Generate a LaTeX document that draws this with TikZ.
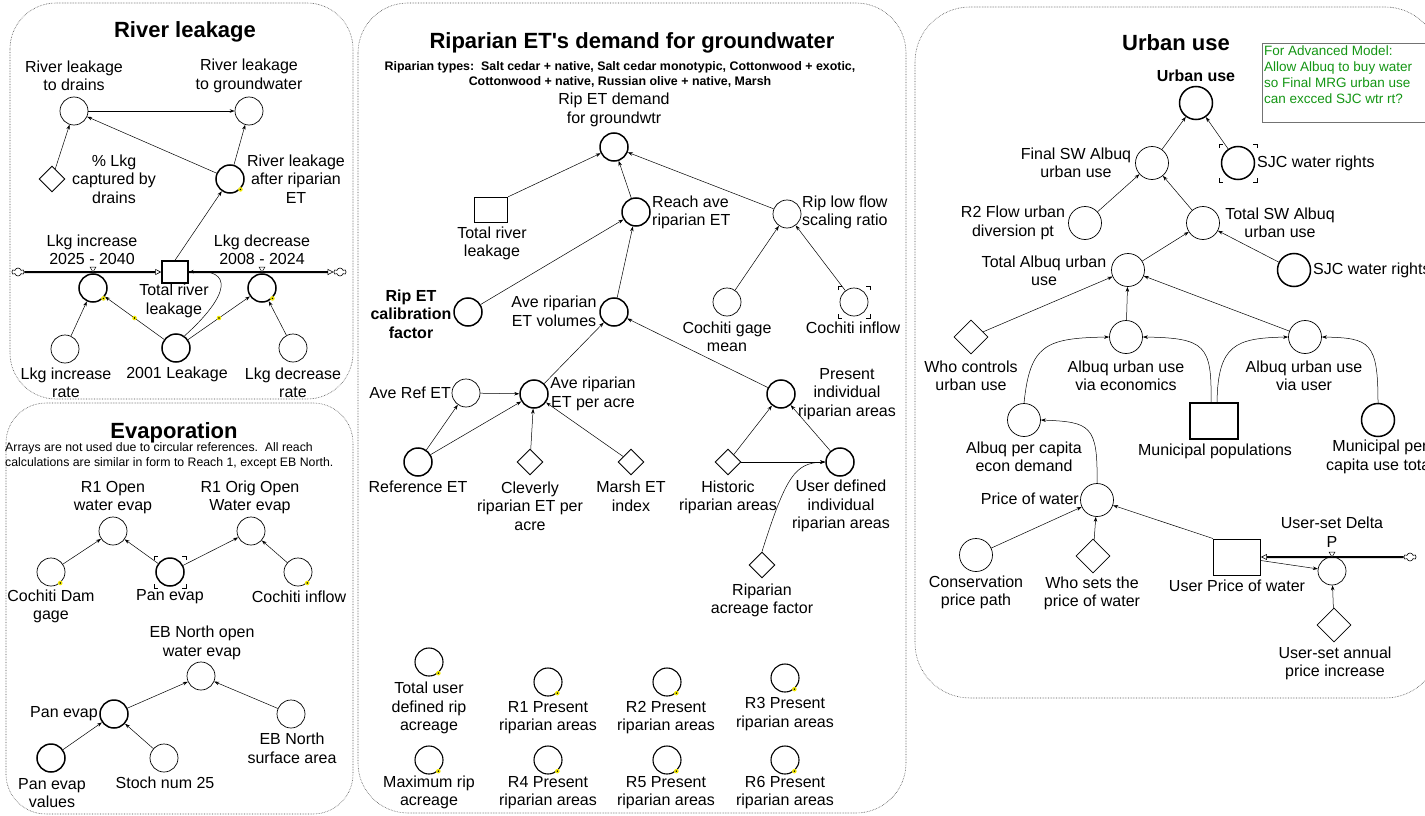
\documentclass[tikz,border=0pt]{standalone}
\usepackage{fontspec}
\setmainfont{Liberation Sans}
\usetikzlibrary{arrows.meta,shapes.geometric,shapes.symbols}
\definecolor{notegreen}{RGB}{20,150,20}
\definecolor{dotyellow}{RGB}{245,235,0}
% small yellow marker drawn on a circle border or on a link
\newcommand\hotdot[1]{\fill[dotyellow] (#1) circle (2.3pt); \fill[black] (#1) circle (0.8pt);}
% corner brackets around a variable
\newcommand\cornermarks[2]{%
  \draw[cmark] ([shift={(-#2,-#2+4)}]#1.center) -- ++(0,-4) -- ++(4,0);
  \draw[cmark] ([shift={(#2-4,-#2)}]#1.center) -- ++(4,0) -- ++(0,4);
  \draw[cmark] ([shift={(-#2,#2-4)}]#1.center) -- ++(0,4) -- ++(4,0);
  \draw[cmark] ([shift={(#2-4,#2)}]#1.center) -- ++(4,0) -- ++(0,-4);}
% valve marker sitting on a flow pipe
\newcommand\valvemark[2]{\draw[line width=0.5pt, fill=white] (#1-3,#2-5) -- (#1+3,#2-5) -- (#1,#2) -- cycle;}
\begin{document}
\begin{tikzpicture}[x=1pt,y=-1pt,
  panel/.style={draw=black!70, densely dotted, line width=0.6pt},
  varc/.style={circle, draw, inner sep=0pt, minimum size=28pt, line width=0.7pt},
  varb/.style={varc, line width=1.5pt},
  varm/.style={varc, line width=1.1pt},
  uvarc/.style={varc, minimum size=33pt},
  uvarb/.style={varb, minimum size=33pt},
  constd/.style={diamond, draw, inner sep=0pt, minimum width=26pt, minimum height=26pt, line width=0.9pt},
  uconstd/.style={constd, minimum width=34pt, minimum height=34pt, line width=0.7pt},
  stockbox/.style={rectangle, draw, inner sep=0pt, line width=1.5pt},
  lbl/.style={align=center, inner sep=0pt, font=\fontsize{16}{18.5}\selectfont},
  blbl/.style={lbl, font=\fontsize{16}{18.5}\selectfont\bfseries},
  ttl/.style={inner sep=0pt, font=\fontsize{22}{26}\selectfont\bfseries},
  subttl/.style={align=center, inner sep=0pt, font=\fontsize{12.4}{14.5}\selectfont\bfseries},
  notetxt/.style={align=left, inner sep=0pt, font=\fontsize{12.3}{15}\selectfont},
  conn/.style={-{Stealth[length=5pt,width=3.5pt]}, line width=0.5pt},
  pipe/.style={line width=2pt},
  pipetip/.style={-{Triangle[open,length=6pt,width=6pt,line width=0.6pt]}},
  cloudn/.style={cloud, cloud puffs=6, draw, line width=0.6pt, minimum width=12pt, minimum height=8pt, inner sep=0pt, aspect=1.4},
  cmark/.style={line width=0.6pt},
]
\useasboundingbox (0,0) rectangle (1425,816);
\fill[white] (0,0) rectangle (1425,816);

% ---------------- panels ----------------
\draw[panel, rounded corners=46pt] (10,3) rectangle (353,399);
\draw[panel, rounded corners=40pt] (6,403) rectangle (353,814);
\draw[panel, rounded corners=50pt] (358,3) rectangle (906,813);
\draw[panel, rounded corners=55pt] (915,7) rectangle (1440,698);

% ---------------- River leakage ----------------
\node[ttl] (tRL) at (185,32) {River leakage};
\node[varc] (drains) at (74,111) {};
\node[lbl] (lDrains) at (74,76) {River leakage\\to drains};
\node[varc] (rlgw) at (249,111) {};
\node[lbl] (lRlgw) at (249,76) {River leakage\\to groundwater};
\node[constd] (plkg) at (52,179) {};
\node[lbl] (lPlkg) at (114,179) {\% Lkg\\captured by\\drains};
\node[varb] (after) at (230,179) {};
\node[lbl] (lAfter) at (296,179) {River leakage\\after riparian\\ET};
\node[stockbox, minimum width=26pt, minimum height=22pt] (tlk) at (175,272) {};
\node[lbl] (lTlk) at (174,301) {Total river\\leakage};
\node[cloudn] (cl1) at (18,272) {};
\node[cloudn] (cl2) at (340,272) {};
\node[varb] (vinc) at (93,288) {};
\node[varb] (vdec) at (262,288) {};
\node[lbl] (lVinc) at (92,250) {Lkg increase\\2025 - 2040};
\node[lbl] (lVdec) at (262,250) {Lkg decrease\\2008 - 2024};
\node[varc] (incrate) at (65,349) {};
\node[lbl] (lIncrate) at (66,383) {Lkg increase\\rate};
\node[varb] (lk2001) at (176,348) {};
\node[lbl] (lLk2001) at (177,374) {2001 Leakage};
\node[varc] (decrate) at (293,348) {};
\node[lbl] (lDecrate) at (293,383) {Lkg decrease\\rate};

\draw[pipe, pipetip] (cl1) -- (tlk);
\draw[pipe, pipetip] (tlk) -- (cl2);
\valvemark{93}{272}
\valvemark{262}{272}

\draw[conn] (drains) -- (rlgw);
\draw[conn] (plkg) -- (drains);
\draw[conn] (after) -- (drains);
\draw[conn] (after) -- (rlgw);
\draw[conn] (tlk.north) -- (after);
\draw[conn] (incrate) -- (vinc);
\draw[conn] (lk2001) -- coordinate[pos=0.5] (dA) (vinc);
\draw[conn] (lk2001) -- coordinate[pos=0.5] (dB) (vdec);
\draw[conn] (decrate) -- (vdec);
\draw[conn] (lk2001.55) .. controls (230,295) and (234,268) .. (tlk.east);
\hotdot{dA} \hotdot{dB}
\hotdot{vinc.-45} \hotdot{vdec.-45} \hotdot{after.-45}

% ---------------- Evaporation ----------------
\node[ttl] (tEv) at (174,433) {Evaporation};
\node[notetxt, anchor=west] (nEv) at (5,455.5) {Arrays are not used due to circular references.\ \ All reach\\calculations are similar in form to Reach 1, except EB North.};
\node[varc] (r1open) at (113,531) {};
\node[lbl] (lR1open) at (113,497.5) {R1 Open\\water evap};
\node[varc] (r1orig) at (251,531) {};
\node[lbl] (lR1orig) at (250,497.5) {R1 Orig Open\\Water evap};
\node[varc] (cdg) at (51,572) {};
\node[lbl] (lCdg) at (51,606.5) {Cochiti Dam\\gage};
\node[varb] (pan1) at (170,572) {};
\node[lbl] (lPan1) at (170,597) {Pan evap};
\node[varc] (cin1) at (298,572) {};
\node[lbl] (lCin1) at (299,597) {Cochiti inflow};
\node[varc] (ebn) at (201,676) {};
\node[lbl] (lEbn) at (202,643) {EB North open\\water evap};
\node[varb] (pan2) at (114,714) {};
\node[lbl, anchor=east] (lPan2) at (98,714) {Pan evap};
\node[varc] (ebsa) at (291,714) {};
\node[lbl] (lEbsa) at (292,748.5) {EB North\\surface area};
\node[varb] (panv) at (51,758) {};
\node[lbl] (lPanv) at (52,793) {Pan evap\\values};
\node[varc] (stoch) at (164,758) {};
\node[lbl] (lStoch) at (165,783) {Stoch num 25};

\draw[conn] (cdg) -- (r1open);
\draw[conn] (pan1) -- (r1open);
\draw[conn] (pan1) -- (r1orig);
\draw[conn] (cin1) -- (r1orig);
\draw[conn] (pan2) -- (ebn);
\draw[conn] (ebsa) -- (ebn);
\draw[conn] (panv) -- (pan2);
\draw[conn] (stoch) -- (pan2);
\cornermarks{pan1}{16}
\hotdot{cdg.-50} \hotdot{cin1.-50}

% ---------------- Riparian ET ----------------
\node[ttl] (tRip) at (632,43) {Riparian ET\textquotesingle s demand for groundwater};
\node[subttl] (sRip) at (620,74.5) {Riparian types:\ \ Salt cedar + native, Salt cedar monotypic, Cottonwood + exotic,\\Cottonwood + native, Russian olive + native, Marsh};
\node[varb] (ripdem) at (614,147) {};
\node[lbl] (lRipdem) at (614,110) {Rip ET demand\\for groundwtr};
\node[stockbox, minimum width=33pt, minimum height=25pt] (tlk2) at (491,210) {};
\node[lbl] (lTlk2) at (492,243.5) {Total river\\leakage};
\node[varb] (reach) at (636,212) {};
\node[lbl, anchor=west, align=left] (lReach) at (652,212.5) {Reach ave\\riparian ET};
\node[varc] (lowflow) at (787,214) {};
\node[lbl, anchor=west, align=left] (lLowflow) at (802,212.5) {Rip low flow\\scaling ratio};
\node[varb] (calib) at (468,312) {};
\node[blbl] (lCalib) at (411,314) {Rip ET\\calibration\\factor};
\node[varb] (vol) at (614,312) {};
\node[lbl] (lVol) at (554,311.5) {Ave riparian\\ET volumes};
\node[varc] (avref) at (466,393) {};
\node[lbl, anchor=east] (lAvref) at (451,393) {Ave Ref ET};
\node[varb] (peracre) at (534,394) {};
\node[lbl] (lPeracre) at (593,394) {Ave riparian\\ET per acre};
\node[varb] (refet) at (418,462) {};
\node[lbl] (lRefet) at (418,487) {Reference ET};
\node[constd] (clev) at (530,462) {};
\node[lbl] (lClev) at (530,506) {Cleverly\\riparian ET per\\acre};
\node[constd] (marsh) at (631,462) {};
\node[lbl] (lMarsh) at (631,496.5) {Marsh ET\\index};
\node[varc] (cgm) at (727,302) {};
\node[lbl] (lCgm) at (727,337) {Cochiti gage\\mean};
\node[varc] (cin2) at (854,302) {};
\node[lbl] (lCin2) at (853,328) {Cochiti inflow};
\node[varb] (present) at (781,394) {};
\node[lbl] (lPresent) at (847,394) {Present\\individual\\riparian areas};
\node[constd] (hist) at (728,462) {};
\node[lbl] (lHist) at (728,497.5) {Historic\\riparian areas};
\node[varb] (udef) at (840,462) {};
\node[lbl] (lUdef) at (841,506) {User defined\\individual\\riparian areas};
\node[constd] (rfac) at (762,565) {};
\node[lbl] (lRfac) at (762,600.5) {Riparian\\acreage factor};

\node[varm] (tudra) at (429,662) {};
\node[lbl] (lTudra) at (429,708) {Total user\\defined rip\\acreage};
\node[varm] (r1p) at (548,682) {};
\node[lbl] (lR1p) at (548,717.5) {R1 Present\\riparian areas};
\node[varm] (r2p) at (667,682) {};
\node[lbl] (lR2p) at (666,717.5) {R2 Present\\riparian areas};
\node[varm] (r3p) at (785,678) {};
\node[lbl] (lR3p) at (785,714) {R3 Present\\riparian areas};
\node[varm] (maxra) at (429,760) {};
\node[lbl] (lMaxra) at (429,792.5) {Maximum rip\\acreage};
\node[varm] (r4p) at (548,760) {};
\node[lbl] (lR4p) at (548,792.5) {R4 Present\\riparian areas};
\node[varm] (r5p) at (667,760) {};
\node[lbl] (lR5p) at (666,792.5) {R5 Present\\riparian areas};
\node[varm] (r6p) at (785,760) {};
\node[lbl] (lR6p) at (785,792.5) {R6 Present\\riparian areas};

\draw[conn] (tlk2.north east) -- (ripdem);
\draw[conn] (reach) -- (ripdem);
\draw[conn] (lowflow) -- (ripdem);
\draw[conn] (calib) -- (reach);
\draw[conn] (vol) -- (reach);
\draw[conn] (cgm) -- (lowflow);
\draw[conn] (cin2) -- (lowflow);
\draw[conn] (peracre) -- (vol);
\draw[conn] (present) -- (vol);
\draw[conn] (avref) -- (peracre);
\draw[conn] (refet) -- (avref);
\draw[conn] (refet) -- (peracre);
\draw[conn] (clev) -- (peracre);
\draw[conn] (marsh) -- (peracre);
\draw[conn] (hist) -- (present);
\draw[conn] (hist) -- (udef);
\draw[conn] (udef) -- (present);
\draw[conn] (rfac.north) .. controls (786,476) and (795,463) .. (udef.west);
\cornermarks{cin2}{16}
\foreach \n in {tudra,r1p,r2p,r3p,maxra,r4p,r5p,r6p} {\hotdot{\n.-50}}

% ---------------- Urban use ----------------
\node[ttl] (tUrb) at (1176,43) {Urban use};
\draw[draw=black!55, line width=0.7pt] (1262,43) rectangle (1445,122);
\node[anchor=north west, align=left, inner sep=0pt, text=notegreen, font=\fontsize{13.5}{16}\selectfont] (advnote) at (1264,46) {For Advanced Model:\\Allow Albuq to buy water\\so Final MRG urban use\\can excced SJC wtr rt?};
\node[blbl] (lUrban) at (1196,76) {Urban use};
\node[uvarb] (urban) at (1196,103) {};
\node[uvarc] (finalsw) at (1152,163) {};
\node[lbl] (lFinalsw) at (1076,163) {Final SW Albuq\\urban use};
\node[uvarb] (sjc1) at (1238,163) {};
\node[lbl, anchor=west] (lSjc1) at (1257,163) {SJC water rights};
\node[uvarc] (r2flow) at (1085,223) {};
\node[lbl] (lR2flow) at (1013,223) {R2 Flow urban\\diversion pt};
\node[uvarc] (totsw) at (1203,223) {};
\node[lbl] (lTotsw) at (1280,223) {Total SW Albuq\\urban use};
\node[uvarc] (totalb) at (1128,270) {};
\node[lbl] (lTotalb) at (1044,271) {Total Albuq urban\\use};
\node[uvarb] (sjc2) at (1294,270) {};
\node[lbl, anchor=west] (lSjc2) at (1313,270) {SJC water rights};
\node[uconstd] (whoctl) at (971,337) {};
\node[lbl] (lWhoctl) at (971,376) {Who controls\\urban use};
\node[uvarc] (viaecon) at (1126,337) {};
\node[lbl] (lViaecon) at (1126,376) {Albuq urban use\\via economics};
\node[uvarc] (viauser) at (1305,337) {};
\node[lbl] (lViauser) at (1304,376) {Albuq urban use\\via user};
\node[uvarc] (percap) at (1024,420) {};
\node[lbl] (lPercap) at (1024,457) {Albuq per capita\\econ demand};
\node[stockbox, minimum width=48pt, minimum height=36pt] (munipop) at (1214,421) {};
\node[lbl] (lMunipop) at (1215,451) {Municipal populations};
\node[uvarb] (munitot) at (1378,420) {};
\node[lbl] (lMunitot) at (1380,457) {Municipal per\\capita use total};
\node[uvarc] (price) at (1097,500) {};
\node[lbl, anchor=east] (lPrice) at (1079,499) {Price of water};
\node[uvarc] (conserv) at (976,555) {};
\node[lbl] (lConserv) at (976,592.5) {Conservation\\price path};
\node[uconstd] (whosets) at (1093,556) {};
\node[lbl] (lWhosets) at (1092,593.5) {Who sets the\\price of water};
\node[stockbox, line width=0.9pt, minimum width=47pt, minimum height=36pt] (uprice) at (1237,557) {};
\node[lbl] (lUprice) at (1237,586) {User Price of water};
\node[varc] (dp) at (1332,571) {};
\node[lbl] (lDp) at (1332,532) {User-set Delta\\P};
\node[cloudn] (cl3) at (1410,557) {};
\node[uconstd] (annual) at (1334,625) {};
\node[lbl] (lAnnual) at (1335,663.5) {User-set annual\\price increase};

\draw[pipe, pipetip] (cl3) -- (uprice);
\valvemark{1332}{557}

\draw[conn] (finalsw) -- (urban);
\draw[conn] (sjc1) -- (urban);
\draw[conn] (r2flow) -- (finalsw);
\draw[conn] (totsw) -- (finalsw);
\draw[conn] (totalb) -- (totsw);
\draw[conn] (sjc2) -- (totsw);
\draw[conn] (whoctl) -- (totalb);
\draw[conn] (viaecon) -- (totalb);
\draw[conn] (viauser) -- (totalb);
\draw[conn] (percap.north) .. controls (1030,345) and (1045,338) .. (viaecon.west);
\draw[conn] ([xshift=-3pt]munipop.north) .. controls (1212,345) and (1205,338) .. (viaecon.east);
\draw[conn] ([xshift=3pt]munipop.north) .. controls (1218,345) and (1235,338) .. (viauser.west);
\draw[conn] (munitot.north) .. controls (1378,342) and (1370,338) .. (viauser.east);
\draw[conn] (price.north) .. controls (1098,425) and (1090,422) .. (percap.east);
\draw[conn] (conserv) -- (price);
\draw[conn] (whosets) -- (price);
\draw[conn] (uprice.north west) -- (price);
\draw[conn] (uprice) -- (dp);
\draw[conn] (annual) -- (dp);
\cornermarks{sjc1}{19}
\end{tikzpicture}
\end{document}
